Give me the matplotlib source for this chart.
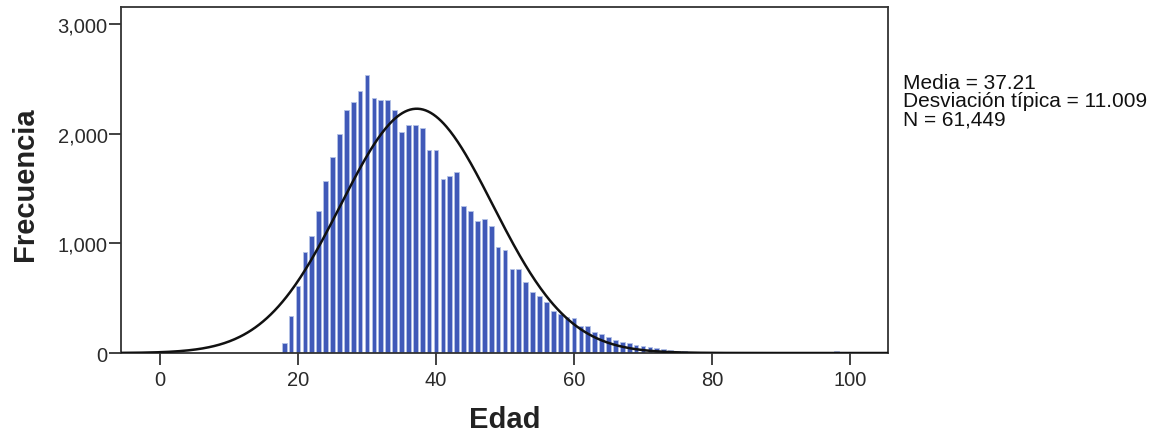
import matplotlib
matplotlib.use('Agg')
import matplotlib.pyplot as plt
import numpy as np

plt.rcParams['font.family'] = ['Liberation Sans', 'DejaVu Sans']

edades = list(range(18, 99))
frecuencias = [91, 340, 614, 924, 1069, 1297, 1571, 1790, 1993, 2218,
               2291, 2391, 2534, 2325, 2309, 2309, 2218, 2011, 2078, 2078,
               2048, 1853, 1853, 1586, 1616, 1646, 1343, 1291, 1206, 1221,
               1154, 966, 942, 766, 766, 650, 559, 523, 468, 386,
               356, 331, 316, 249, 243, 189, 173, 143, 121, 97,
               91, 73, 67, 55, 45, 38, 30, 22, 16, 10,
               7, 5, 4, 3, 3, 2, 2, 2, 1, 1,
               1, 1, 1, 1, 1, 1, 1, 1, 1, 1, 20]

media = 37.21
desv = 11.009
n_total = 61449

fig = plt.figure(figsize=(11.51, 4.35), dpi=100)
ax = fig.add_axes([0.1051, 0.1862, 0.6664, 0.7954])

ax.bar(edades, frecuencias, width=0.68, color='#4059b8',
       edgecolor='#b4c2e6', linewidth=0.6, zorder=2)

# curva normal con la media y desviacion tipica
xs = np.linspace(-6, 106, 600)
ys = n_total / (desv * np.sqrt(2 * np.pi)) * np.exp(-0.5 * ((xs - media) / desv) ** 2)
ax.plot(xs, ys, color='#111111', linewidth=1.8, zorder=3)

ax.set_xlim(-5.65, 105.5)
ax.set_ylim(0, 3154)
ax.set_xticks([0, 20, 40, 60, 80, 100])
ax.set_yticks([0, 1000, 2000, 3000])
ax.set_yticklabels(['0', '1,000', '2,000', '3,000'])

for s in ax.spines.values():
    s.set_color('#333333')
    s.set_linewidth(1.3)
ax.tick_params(axis='both', direction='out', length=8.5, width=1.3,
               colors='#333333', labelsize=14.5, labelcolor='#2a2a2a', pad=1)
ax.tick_params(axis='x', pad=4)

ax.set_xlabel('Edad', fontsize=21, fontweight='bold', color='#222222', va='center')
ax.set_ylabel('Frecuencia', fontsize=21, fontweight='bold', color='#222222', va='center')
ax.xaxis.set_label_coords(0.5, -0.19)
ax.yaxis.set_label_coords(-0.125, 0.49)

fig.text(0.7845, 0.766, 'Media = 37.21\nDesviación típica = 11.009\nN = 61,449',
         fontsize=15, color='#111111', va='center', ha='left', linespacing=0.96)

plt.savefig('out.png', dpi=100)
